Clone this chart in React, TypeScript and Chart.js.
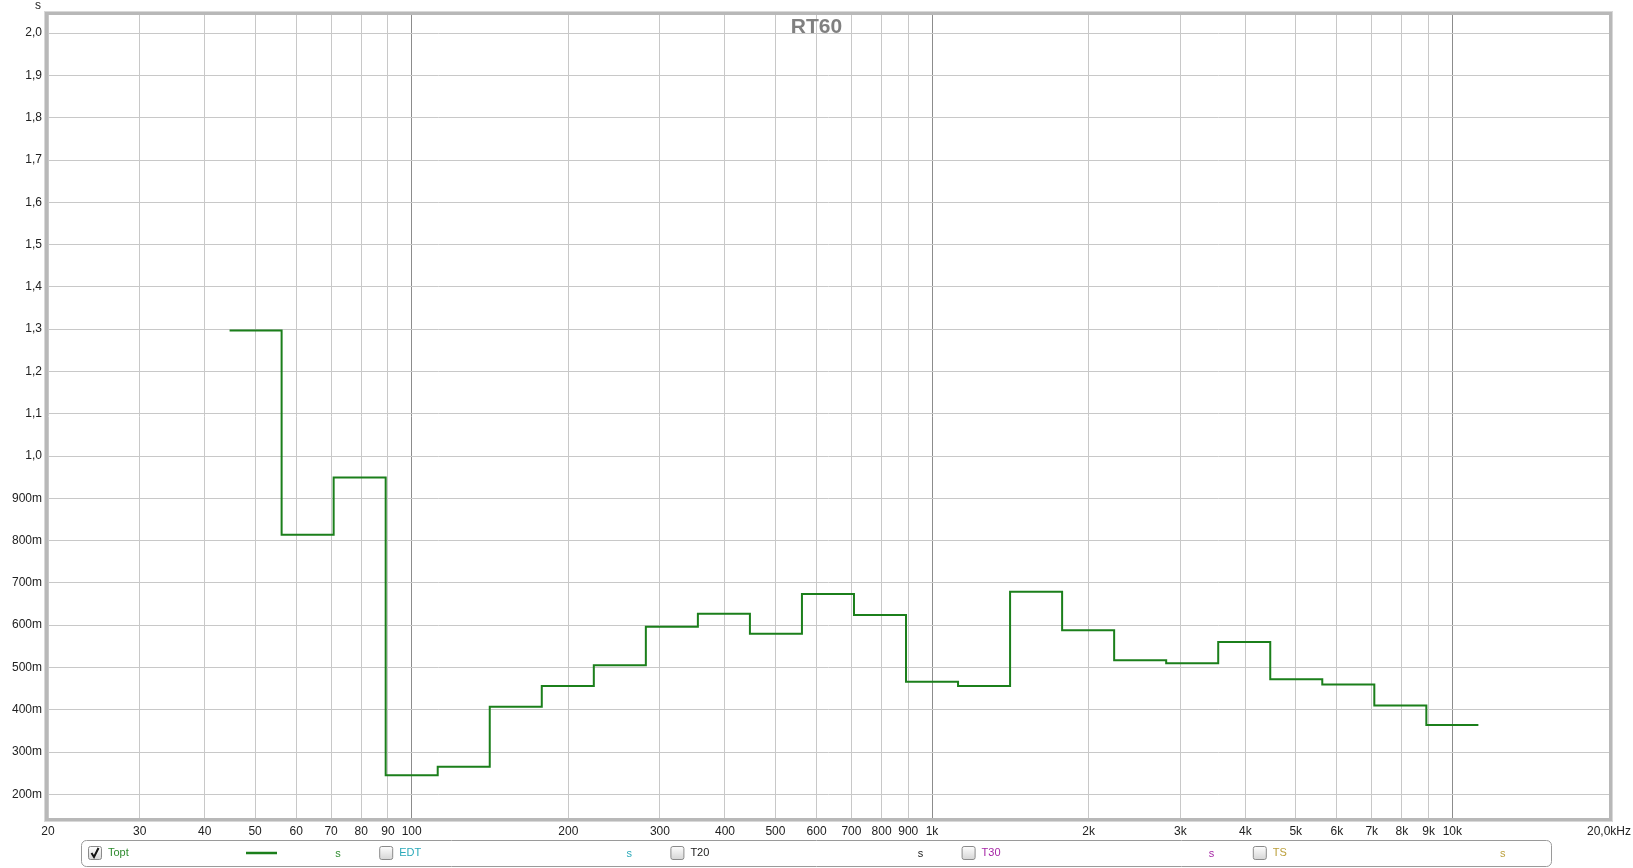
import React, { useEffect, useRef } from "react";
import { Chart, registerables } from "chart.js";

Chart.register(...registerables);

// ---- Data ----
const bandCenters = [50, 63, 80, 100, 125, 160, 200, 250, 315, 400, 500, 630, 800, 1000, 1250, 1600, 2000, 2500, 3150, 4000, 5000, 6300, 8000, 10000];
const toptValues = [1.297, 0.814, 0.949, 0.245, 0.265, 0.407, 0.456, 0.505, 0.596, 0.627, 0.58, 0.674, 0.624, 0.466, 0.456, 0.679, 0.588, 0.517, 0.51, 0.56, 0.472, 0.46, 0.41, 0.364];

const xTickValues = [20, 30, 40, 50, 60, 70, 80, 90, 100, 200, 300, 400, 500, 600, 700, 800, 900, 1000, 2000, 3000, 4000, 5000, 6000, 7000, 8000, 9000, 10000, 20000];
const xTickLabels = ["20", "30", "40", "50", "60", "70", "80", "90", "100", "200", "300", "400", "500", "600", "700", "800", "900", "1k", "2k", "3k", "4k", "5k", "6k", "7k", "8k", "9k", "10k", "20,0kHz"];
const xMajorTicks = [100, 1000, 10000];

const yTickValues = [0.2, 0.3, 0.4, 0.5, 0.6, 0.7, 0.8, 0.9, 1.0, 1.1, 1.2, 1.3, 1.4, 1.5, 1.6, 1.7, 1.8, 1.9, 2.0];
const yTickLabels = ["200m", "300m", "400m", "500m", "600m", "700m", "800m", "900m", "1,0", "1,1", "1,2", "1,3", "1,4", "1,5", "1,6", "1,7", "1,8", "1,9", "2,0"];

const legendNames = ["Topt", "EDT", "T20", "T30", "TS"];
const legendColors = ["#2e8b2e", "#2aa9b9", "#1a1a1a", "#a626a6", "#bca03c"];
const legendChecked = [true, false, false, false, false];

const titleText = "RT60";
const yUnit = "s";

const FONT = "'Liberation Sans', Arial, sans-serif";
const LINE_COLOR = "#1b7f1b";

// step points at exact base-10 1/3-octave band edges
const bandIndex = (c: number) => Math.round(10 * Math.log10(c));
const lowerEdge = (c: number) => Math.pow(10, (bandIndex(c) - 0.5) / 10);
const upperEdge = (c: number) => Math.pow(10, (bandIndex(c) + 0.5) / 10);
const stepPoints = bandCenters.map((c, i) => ({ x: lowerEdge(c), y: toptValues[i] }));
stepPoints.push({ x: upperEdge(bandCenters[bandCenters.length - 1]), y: toptValues[toptValues.length - 1] });

const decorPlugin = {
  id: "decor",
  afterDraw(chart: any) {
    const { ctx, chartArea: a } = chart;
    ctx.save();
    // plot frame
    ctx.strokeStyle = "#b8b8b8";
    ctx.lineWidth = 3;
    ctx.strokeRect(a.left - 1.5, a.top - 1.5, a.right - a.left + 3, a.bottom - a.top + 3);
    ctx.strokeStyle = "#d8d8d8";
    ctx.lineWidth = 1;
    ctx.strokeRect(a.left - 3.5, a.top - 3.5, a.right - a.left + 7, a.bottom - a.top + 7);

    // title
    ctx.fillStyle = "#808080";
    ctx.font = `bold 21px ${FONT}`;
    ctx.textAlign = "center";
    ctx.textBaseline = "middle";
    ctx.fillText(titleText, chart.width / 2, 27);

    // y unit
    ctx.fillStyle = "#222";
    ctx.font = `12px ${FONT}`;
    ctx.fillText(yUnit, 38, 6);

    // legend box
    ctx.strokeStyle = "#9a9a9a";
    ctx.lineWidth = 1;
    ctx.beginPath();
    (ctx as any).roundRect(81.5, 840.5, 1470, 26, 5);
    ctx.stroke();

    const cy = 853;
    legendNames.forEach((name, i) => {
      const bx = 88 + i * 291.2;
      // checkbox
      const g = ctx.createLinearGradient(0, cy - 7, 0, cy + 7);
      g.addColorStop(0, "#ffffff");
      g.addColorStop(1, "#d4d4d4");
      ctx.fillStyle = g;
      ctx.strokeStyle = "#8a8a8a";
      ctx.lineWidth = 1;
      ctx.beginPath();
      (ctx as any).roundRect(bx + 0.5, cy - 6.5, 13, 13, 2);
      ctx.fill();
      ctx.stroke();
      if (legendChecked[i]) {
        ctx.strokeStyle = "#111";
        ctx.lineWidth = 2;
        ctx.beginPath();
        ctx.moveTo(bx + 3.5, cy);
        ctx.lineTo(bx + 6, cy + 4);
        ctx.lineTo(bx + 10.5, cy - 5);
        ctx.stroke();
        // line sample
        ctx.strokeStyle = LINE_COLOR;
        ctx.lineWidth = 2.5;
        ctx.beginPath();
        ctx.moveTo(bx + 158, cy);
        ctx.lineTo(bx + 189, cy);
        ctx.stroke();
      }
      ctx.fillStyle = legendColors[i];
      ctx.font = `11px ${FONT}`;
      ctx.textAlign = "left";
      ctx.textBaseline = "middle";
      ctx.fillText(name, bx + 20, cy);
      ctx.textAlign = "center";
      ctx.fillText(yUnit, bx + 250, cy + 1);
    });
    ctx.restore();
  },
};

export default function App() {
  const canvasRef = useRef<HTMLCanvasElement | null>(null);

  useEffect(() => {
    document.body.style.margin = "0";
    const canvas = canvasRef.current;
    if (!canvas) return;
    const chart = new Chart(canvas, {
      type: "line",
      data: {
        datasets: [
          {
            label: "Topt",
            data: stepPoints,
            stepped: true,
            borderColor: LINE_COLOR,
            borderWidth: 2,
            pointRadius: 0,
            fill: false,
          },
        ],
      },
      options: {
        animation: false,
        responsive: false,
        maintainAspectRatio: false,
        layout: { padding: { top: 15, right: 24, bottom: 0, left: 0 } },
        plugins: {
          legend: { display: false },
          tooltip: { enabled: false },
          title: { display: false },
        },
        scales: {
          x: {
            type: "logarithmic",
            min: 20,
            max: 20000,
            border: { display: false },
            afterBuildTicks: (s: any) => {
              s.ticks = xTickValues.map((v) => ({ value: v }));
            },
            afterFit: (s: any) => {
              s.height = 50;
              s.paddingLeft = 0;
              s.paddingRight = 0;
            },
            grid: {
              drawTicks: false,
              color: (c: any) => (c.tick && xMajorTicks.includes(c.tick.value) ? "#8c8c8c" : "#c8c8c8"),
              lineWidth: 1,
            },
            ticks: {
              autoSkip: false,
              maxRotation: 0,
              minRotation: 0,
              padding: 6,
              color: "#222",
              font: { family: FONT, size: 12 },
              callback: (_v: any, i: number) => xTickLabels[i],
            },
          },
          y: {
            type: "linear",
            min: 0.144,
            max: 2.043,
            border: { display: false },
            afterBuildTicks: (s: any) => {
              s.ticks = yTickValues.map((v) => ({ value: v }));
            },
            afterFit: (s: any) => {
              s.width = 48;
              s.paddingTop = 0;
              s.paddingBottom = 0;
            },
            grid: { drawTicks: false, color: "#c8c8c8", lineWidth: 1 },
            ticks: {
              padding: 6,
              color: "#222",
              font: { family: FONT, size: 12 },
              callback: (_v: any, i: number) => yTickLabels[i],
            },
          },
        },
      },
      plugins: [decorPlugin],
    });
    return () => chart.destroy();
  }, []);

  return (
    <div style={{ position: "absolute", left: 0, top: 0, width: 1633, height: 868, background: "#fff" }}>
      <canvas ref={canvasRef} width={1633} height={868} style={{ display: "block" }} />
    </div>
  );
}
